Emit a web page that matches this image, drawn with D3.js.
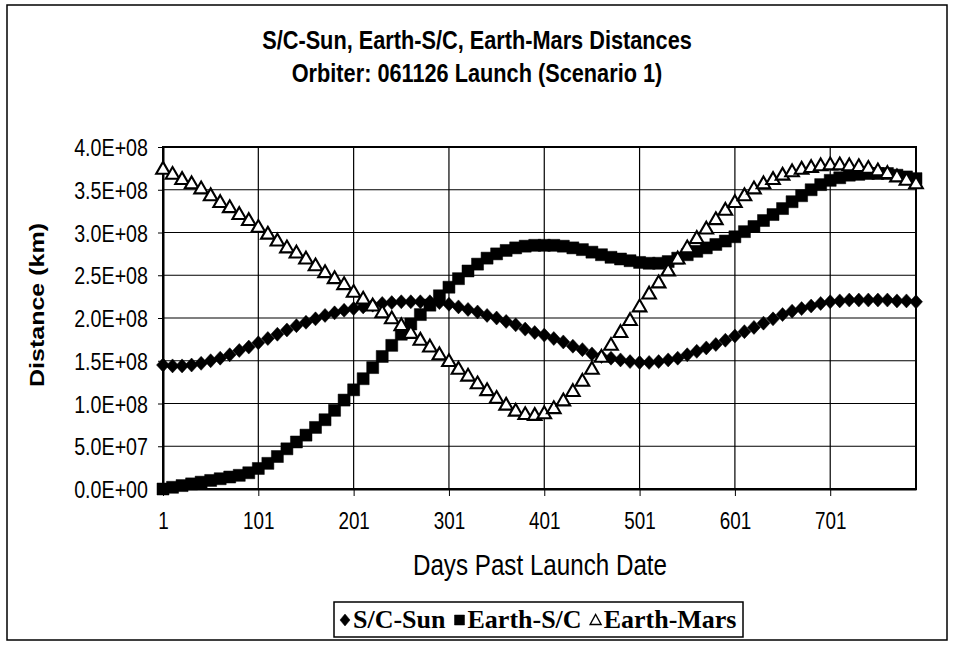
<!DOCTYPE html>
<html><head><meta charset="utf-8">
<script src="https://cdn.jsdelivr.net/npm/d3@7"></script>
<style>body{margin:0;background:#fff}svg{display:block}</style>
</head><body><svg id="c" width="954" height="652"></svg>
<script>
// ---- data ----
const titleLines = ["S/C-Sun, Earth-S/C, Earth-Mars Distances", "Orbiter: 061126 Launch (Scenario 1)"];
const xTitle = "Days Past Launch Date";
const yTitle = "Distance (km)";
const seriesNames = ["S/C-Sun", "Earth-S/C", "Earth-Mars"];
const xTickValues = [1, 101, 201, 301, 401, 501, 601, 701];
const yTickValues = [0, 0.5, 1, 1.5, 2, 2.5, 3, 3.5, 4]; // units of 1e8 km
const yTickLabels = ["0.0E+00","5.0E+07","1.0E+08","1.5E+08","2.0E+08","2.5E+08","3.0E+08","3.5E+08","4.0E+08"];
const days = [1,11,21,31,41,51,61,71,81,91,101,111,121,131,141,151,161,171,181,191,
  201,211,221,231,241,251,261,271,281,291,301,311,321,331,341,351,361,371,381,391,
  401,411,421,431,441,451,461,471,481,491,501,511,521,531,541,551,561,571,581,591,
  601,611,621,631,641,651,661,671,681,691,701,711,721,731,741,751,761,771,781,791];
const scSun = [1.45,1.44,1.44,1.45,1.47,1.50,1.53,1.57,1.62,1.66,
  1.71,1.76,1.81,1.86,1.91,1.95,1.99,2.03,2.06,2.09,
  2.11,2.13,2.15,2.17,2.18,2.19,2.19,2.19,2.19,2.18,
  2.16,2.13,2.10,2.07,2.03,2.00,1.96,1.92,1.87,1.83,
  1.80,1.76,1.72,1.67,1.63,1.58,1.55,1.53,1.51,1.49,
  1.48,1.48,1.49,1.51,1.53,1.57,1.61,1.65,1.69,1.74,
  1.79,1.84,1.89,1.94,1.99,2.04,2.08,2.11,2.14,2.17,
  2.19,2.20,2.21,2.21,2.21,2.21,2.21,2.20,2.20,2.19];
const earthSC = [0.00,0.02,0.04,0.06,0.08,0.10,0.12,0.14,0.16,0.19,
  0.24,0.30,0.38,0.47,0.55,0.63,0.72,0.81,0.92,1.04,
  1.16,1.29,1.42,1.55,1.68,1.81,1.93,2.04,2.15,2.26,
  2.36,2.46,2.55,2.63,2.70,2.75,2.79,2.82,2.84,2.85,
  2.85,2.85,2.84,2.82,2.80,2.77,2.74,2.71,2.69,2.67,
  2.65,2.64,2.64,2.66,2.70,2.74,2.78,2.82,2.86,2.90,
  2.95,3.01,3.07,3.14,3.21,3.28,3.36,3.43,3.50,3.56,
  3.61,3.64,3.67,3.68,3.69,3.69,3.69,3.67,3.65,3.63];
const earthMars = [3.75,3.69,3.63,3.58,3.52,3.44,3.36,3.30,3.22,3.15,
  3.07,2.99,2.91,2.83,2.77,2.70,2.62,2.54,2.47,2.40,
  2.31,2.23,2.15,2.07,2.00,1.92,1.83,1.75,1.67,1.58,
  1.50,1.41,1.33,1.24,1.16,1.07,0.99,0.92,0.88,0.87,
  0.89,0.95,1.04,1.15,1.27,1.41,1.55,1.69,1.84,1.98,
  2.14,2.29,2.42,2.56,2.70,2.83,2.94,3.05,3.16,3.27,
  3.36,3.44,3.52,3.58,3.63,3.68,3.72,3.75,3.77,3.79,
  3.80,3.80,3.79,3.78,3.76,3.73,3.70,3.66,3.62,3.58];

// ---- layout / style ----
const SX = 0.82; // horizontal condensing of text
const sans = "'Liberation Sans', Arial, sans-serif";
const serif = "'Liberation Serif', 'Times New Roman', serif";
const plot = {left: 163, right: 916, top: 147, bottom: 489};

const svg = d3.select("#c");
svg.append("rect").attr("width", 954).attr("height", 652).attr("fill", "#fff");
svg.append("rect").attr("x", 7).attr("y", 5).attr("width", 940).attr("height", 635)
  .attr("fill", "none").attr("stroke", "#000").attr("stroke-width", 1.5);

const x = d3.scaleLinear().domain([1, 791]).range([plot.left, plot.right]);
const y = d3.scaleLinear().domain([0, 4]).range([plot.bottom, plot.top]);

function ctext(g, px, py, str, size, weight, family, anchor, sx) {
  return g.append("text")
    .attr("transform", `translate(${px},${py}) scale(${sx || SX},1)`)
    .attr("text-anchor", anchor || "middle")
    .style("font-family", family).style("font-size", size + "px").style("font-weight", weight)
    .attr("fill", "#000").text(str);
}

// title
ctext(svg, 477, 49, titleLines[0], 26.5, "bold", sans);
ctext(svg, 477, 82, titleLines[1], 26.5, "bold", sans);

// gridlines
const grid = svg.append("g").attr("stroke", "#000").attr("stroke-width", 1.2);
grid.selectAll(".h").data(yTickValues).join("line")
  .attr("x1", plot.left).attr("x2", plot.right)
  .attr("y1", d => y(d)).attr("y2", d => y(d));
grid.selectAll(".v").data(xTickValues).join("line")
  .attr("x1", d => x(d)).attr("x2", d => x(d))
  .attr("y1", plot.top).attr("y2", plot.bottom);

// plot frame
svg.append("rect").attr("x", plot.left).attr("y", plot.top)
  .attr("width", plot.right - plot.left).attr("height", plot.bottom - plot.top)
  .attr("fill", "none").attr("stroke", "#000").attr("stroke-width", 2);

// axes
const yAxis = svg.append("g").attr("transform", `translate(${plot.left},0)`)
  .call(d3.axisLeft(y).tickValues(yTickValues).tickFormat((d, i) => yTickLabels[i]).tickSizeInner(5).tickSizeOuter(0));
yAxis.select(".domain").attr("stroke-width", 2);
yAxis.selectAll("text").attr("x", null).attr("dy", "0.36em")
  .attr("transform", `translate(-15,0) scale(${SX},1)`)
  .style("font-family", sans).style("font-size", "24px").attr("fill", "#000");

const xAxis = svg.append("g").attr("transform", `translate(0,${plot.bottom})`)
  .call(d3.axisBottom(x).tickValues(xTickValues).tickFormat(d3.format("d")).tickSizeInner(7).tickSizeOuter(0));
xAxis.select(".domain").attr("stroke-width", 2);
xAxis.selectAll("text").attr("y", 40).attr("dy", null)
  .attr("transform", `scale(${SX},1)`)
  .style("font-family", sans).style("font-size", "23px").attr("fill", "#000");

// axis titles
ctext(svg, 540, 575, xTitle, 29.5, "normal", sans);
svg.append("text")
  .attr("transform", `translate(37,305) rotate(-90) scale(1,${SX})`)
  .attr("text-anchor", "middle").attr("dy", "0.36em")
  .style("font-family", sans).style("font-size", "25px").style("font-weight", "bold")
  .text(yTitle);

// markers
const markers = {
  diamond: "M0,-7L6.5,0L0,7L-6.5,0Z",
  square: "M-6,-6H6V6H-6Z",
  triangle: "M0,-6.5L6.8,5.3H-6.8Z"
};
const series = [
  {name: seriesNames[0], values: scSun, shape: "diamond", fill: "#000", stroke: "#000", sw: 0.5},
  {name: seriesNames[1], values: earthSC, shape: "square", fill: "#000", stroke: "#000", sw: 0.5},
  {name: seriesNames[2], values: earthMars, shape: "triangle", fill: "#fff", stroke: "#000", sw: 2.1}
];
const mg = svg.append("g");
series.forEach(s => {
  mg.append("g").selectAll("path").data(s.values).join("path")
    .attr("d", markers[s.shape])
    .attr("transform", (d, i) => `translate(${x(days[i])},${y(d)})`)
    .attr("fill", s.fill).attr("stroke", s.stroke).attr("stroke-width", s.sw)
    .attr("stroke-linejoin", "miter");
});

// legend
const lg = svg.append("g");
lg.append("rect").attr("x", 334).attr("y", 602).attr("width", 409).attr("height", 35)
  .attr("fill", "#fff").attr("stroke", "#000").attr("stroke-width", 1.5);
const legendMarkers = {
  diamond: "M0,-6L5,0L0,6L-5,0Z",
  square: "M-5,-5H5V5H-5Z",
  triangle: "M0,-5.5L5.5,4.5H-5.5Z"
};
let lx = 340;
const ly = 628;
series.forEach((s, i) => {
  lg.append("path").attr("d", legendMarkers[s.shape])
    .attr("transform", `translate(${lx + 5},${ly - 8})`)
    .attr("fill", s.fill).attr("stroke", s.stroke).attr("stroke-width", s.shape === "triangle" ? 1.4 : 0.5);
  const t = ctext(lg, lx + 13, ly, s.name, 26, "bold", serif, "start", 1);
  const w = t.node().getComputedTextLength();
  lx += 13 + w + 9;
});
</script></body></html>
